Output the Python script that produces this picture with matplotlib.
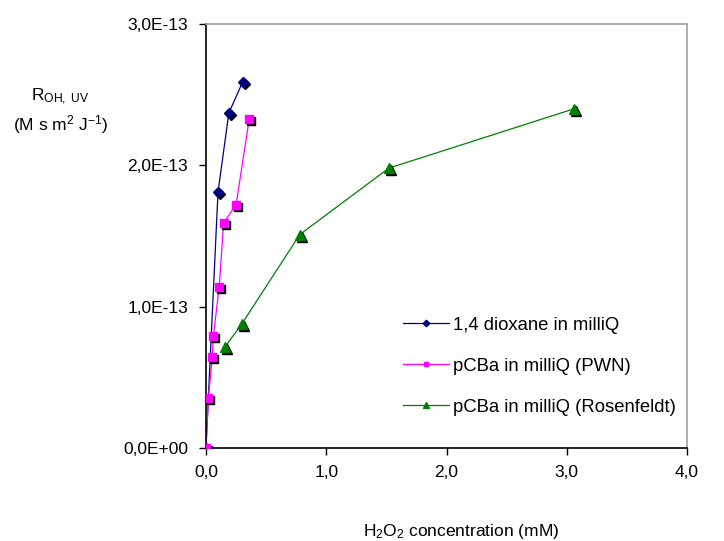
import matplotlib
matplotlib.use("Agg")
import matplotlib.pyplot as plt
import matplotlib.transforms as mtransforms
from matplotlib.ticker import FuncFormatter

plt.rcParams['font.family'] = ['Liberation Sans', 'DejaVu Sans']
plt.rcParams['mathtext.fontset'] = 'custom'
plt.rcParams['mathtext.rm'] = 'Liberation Sans'
plt.rcParams['mathtext.it'] = 'Liberation Sans'

# H2O2 concentration (mM) vs R_OH,UV (M s m2 J-1)
dioxane_x = [0.0, 0.10, 0.19, 0.305]
dioxane_y = [0.0, 1.81e-13, 2.37e-13, 2.59e-13]

pwn_x = [0.0, 0.02, 0.052, 0.062, 0.11, 0.147, 0.25, 0.36]
pwn_y = [0.0, 0.35e-13, 0.646e-13, 0.795e-13, 1.14e-13, 1.595e-13, 1.72e-13, 2.33e-13]

rosen_x = [0.16, 0.30, 0.78, 1.52, 3.06]
rosen_y = [0.717e-13, 0.88e-13, 1.51e-13, 1.98e-13, 2.40e-13]

series = [
    (dioxane_x, dioxane_y, "1,4 dioxane in milliQ", "#000080", "D", 5.5),
    (pwn_x, pwn_y, "pCBa in milliQ (PWN)", "#FF00FF", "s", 5.5),
    (rosen_x, rosen_y, "pCBa in milliQ (Rosenfeldt)", "#008000", "^", 7.0),
]

FS = 12.5

fig = plt.figure(figsize=(7.24, 5.41), dpi=100)
ax = fig.add_axes([0.2845, 0.172, 0.6645, 0.7836])

# excel-style drop shadow under the markers
shadow = mtransforms.offset_copy(ax.transData, fig=fig, x=2, y=-2, units='dots')

for xs, ys, label, color, marker, ms in series:
    ax.plot(xs, ys, linestyle='none', marker=marker, ms=ms, color='black',
            transform=shadow, zorder=2)
for xs, ys, label, color, marker, ms in series:
    ax.plot(xs, ys, color=color, lw=0.9, zorder=1)
    ax.plot(xs, ys, linestyle='none', marker=marker, ms=ms, color=color,
            mec=color, zorder=3)

# legend handles use smaller markers
handles = []
for xs, ys, label, color, marker, ms in series:
    h, = ax.plot([], [], color=color, lw=0.9, marker=marker, ms=ms * 0.6,
                 mec=color, label=label)
    handles.append(h)
ax.legend(handles=handles, loc='center left', bbox_to_anchor=(0.375, 0.193),
          frameon=False, fontsize=13.3, handlelength=2.5, handletextpad=0.2,
          labelspacing=1.3)

ax.set_xlim(0, 4.0)
ax.set_ylim(0, 3.0e-13)
ax.set_xticks([0, 1, 2, 3, 4])
ax.set_yticks([0, 1e-13, 2e-13, 3e-13])
ax.xaxis.set_major_formatter(FuncFormatter(lambda v, p: f"{v:.1f}".replace('.', ',')))


def sci_comma(v, p):
    if v == 0:
        return "0,0E+00"
    mant, exp = f"{v:.1E}".split('E')
    return f"{mant.replace('.', ',')}E{int(exp):+03d}"


ax.yaxis.set_major_formatter(FuncFormatter(sci_comma))
ax.tick_params(axis='both', direction='out', length=5, width=1.0,
               labelsize=FS, color='black', pad=8)
ax.tick_params(axis='x', pad=7)

for side in ('left', 'bottom'):
    ax.spines[side].set_color('black')
    ax.spines[side].set_linewidth(1.2)
for side in ('top', 'right'):
    ax.spines[side].set_color('#a0a0a0')
    ax.spines[side].set_linewidth(1.2)

fig.text(0.083, 0.821, r"R$_{\mathrm{OH,\ UV}}$", ha='center', va='center', fontsize=FS)
fig.text(0.083, 0.769, r"(M s m$^{2}$ J$^{-1}$)", ha='center', va='center', fontsize=FS)
fig.text(0.637, 0.017, r"H$_{2}$O$_{2}$ concentration (mM)", ha='center',
         va='center', fontsize=FS)

fig.savefig("out.png", dpi=100)
